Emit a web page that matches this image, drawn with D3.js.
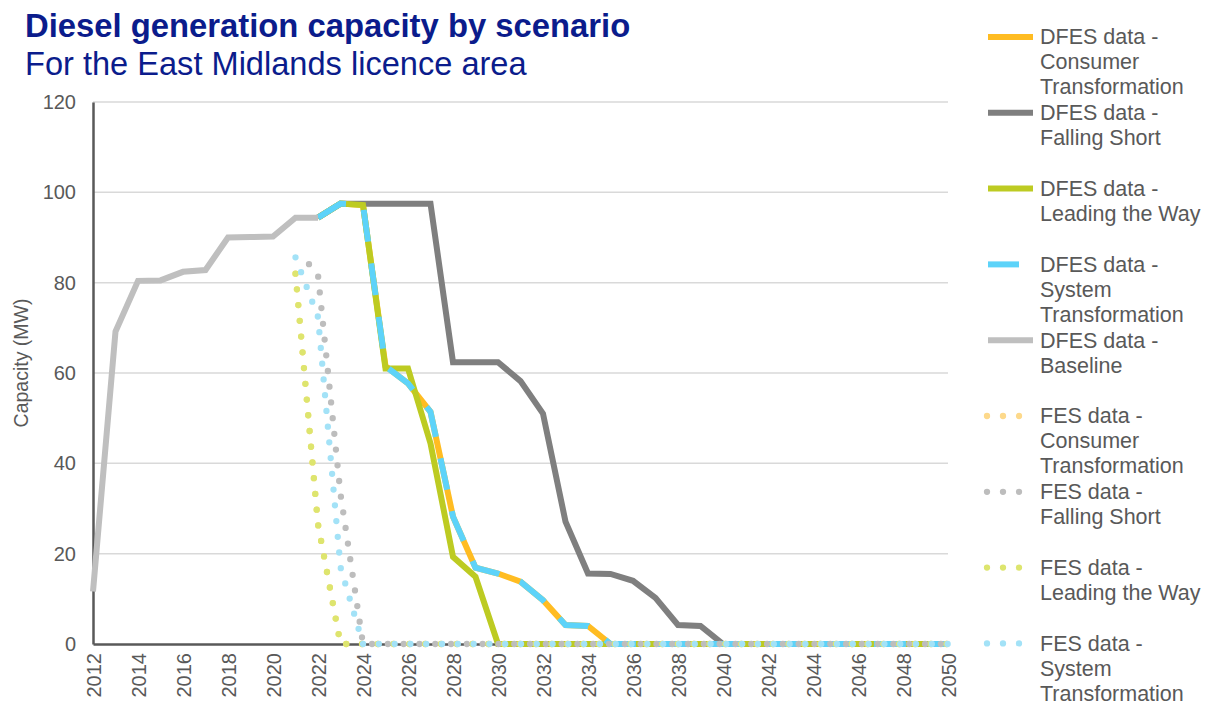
<!DOCTYPE html>
<html><head><meta charset="utf-8">
<script src="https://cdn.jsdelivr.net/npm/d3@7"></script>
<style>
body{margin:0;background:#fff;}
svg text{font-family:"Liberation Sans",Arial,sans-serif;}
</style>
</head><body>
<svg id="chart" width="1208" height="706"></svg>
<script>
// ---------- DATA ----------
const baselineYears = [2012,2013,2014,2015,2016,2017,2018,2019,2020,2021,2022];
const baselineValues = [11.6,69.2,80.4,80.5,82.4,82.8,90.0,90.1,90.2,94.4,94.4];

const dfesYears = [2022,2023,2024,2025,2026,2027,2028,2029,2030,2031,2032,2033,2034,2035,2036,
  2037,2038,2039,2040,2041,2042,2043,2044,2045,2046,2047,2048,2049,2050];
const dfesConsumer = [94.4,97.5,97.2,61.5,57.7,51.4,28.2,16.9,15.6,13.8,9.7,4.2,4.0,0,0,
  0,0,0,0,0,0,0,0,0,0,0,0,0,0];
const dfesFalling = [94.4,97.5,97.5,97.5,97.5,97.5,62.4,62.4,62.4,58.2,51.0,27.1,15.6,15.5,14.0,
  10.2,4.2,4.0,0,0,0,0,0,0,0,0,0,0,0];
const dfesLeading = [94.4,97.5,97.2,61.0,61.0,44.4,19.3,14.9,0,0,0,0,0,0,0,
  0,0,0,0,0,0,0,0,0,0,0,0,0,0];
const dfesSystem = [94.4,97.5,97.2,61.5,57.7,51.4,28.2,16.9,15.6,13.8,9.7,4.2,4.0,0,0,
  0,0,0,0,0,0,0,0,0,0,0,0,0,0];

const fesZeroYears = [2024,2025,2026,2027,2028,2029,2030,2031,2032,2033,2034,2035,2036,2037,
  2038,2039,2040,2041,2042,2043,2044,2045,2046,2047,2048,2049,2050];
const fesConsumerHead = [[2021,82.0],[2022,26.5],[2023,0]];
const fesFallingHead  = [[2021.6,84.1],[2022,81.7],[2023,33.2]];
const fesLeadingHead  = [[2021,82.0],[2022,26.5],[2023,0]];
const fesSystemHead   = [[2021,85.6],[2022,72.4],[2023,17.0]];

const xTickYears = [2012,2014,2016,2018,2020,2022,2024,2026,2028,2030,2032,2034,2036,2038,2040,
  2042,2044,2046,2048,2050];
const yTicks = [0,20,40,60,80,100,120];

const legendLabels = [
  ["DFES data -","Consumer","Transformation"],
  ["DFES data -","Falling Short"],
  ["DFES data -","Leading the Way"],
  ["DFES data -","System","Transformation"],
  ["DFES data -","Baseline"],
  ["FES data -","Consumer","Transformation"],
  ["FES data -","Falling Short"],
  ["FES data -","Leading the Way"],
  ["FES data -","System","Transformation"]
];

// ---------- BUILD ----------
const zip = (xs, vs) => xs.map((x,i)=>[x, vs[i]]);
const zeroTail = fesZeroYears.map(y=>[y,0]);

const series = [
  {pts: zip(dfesYears, dfesConsumer), color:"#FFBC22", w:6, dash:null, kind:"solid"},
  {pts: zip(dfesYears, dfesFalling),  color:"#7F7F7F", w:6, dash:null, kind:"solid"},
  {pts: zip(dfesYears, dfesLeading),  color:"#BDCB22", w:6, dash:null, kind:"solid"},
  {pts: zip(dfesYears, dfesSystem),   color:"#5DD3F9", w:6, dash:"32 22", kind:"dash"},
  {pts: zip(baselineYears, baselineValues), color:"#BFBFBF", w:6, dash:null, kind:"solid"},
  {pts: fesConsumerHead.concat(zeroTail), color:"#FDD98B", w:6.3, dash:"0 15.8", kind:"dot"},
  {pts: fesFallingHead.concat(zeroTail),  color:"#BDBDBD", w:6.3, dash:"0 15.8", kind:"dot"},
  {pts: fesLeadingHead.concat(zeroTail),  color:"#DDE56E", w:6.3, dash:"0 15.8", kind:"dot"},
  {pts: fesSystemHead.concat(zeroTail),   color:"#A3E2F7", w:6.3, dash:"0 15.8", kind:"dot"}
];

const svg = d3.select("#chart");
const x = d3.scaleLinear().domain([2012,2050]).range([93,948]);
const y = d3.scaleLinear().domain([0,120]).range([644,102]);
const textGray = "#595959";

// title
svg.append("text").attr("x",25).attr("y",37).attr("fill","#0B1C8C")
  .attr("font-size",32.8).attr("font-weight","bold").text("Diesel generation capacity by scenario");
svg.append("text").attr("x",25).attr("y",75).attr("fill","#0B1C8C")
  .attr("font-size",32.6).text("For the East Midlands licence area");

// gridlines
svg.append("g").selectAll("line").data(yTicks.filter(t=>t>0)).join("line")
  .attr("x1",x(2012)).attr("x2",x(2050)).attr("y1",d=>y(d)).attr("y2",d=>y(d))
  .attr("stroke","#D9D9D9").attr("stroke-width",1.5);

// y axis
const yAxis = d3.axisLeft(y).tickValues(yTicks).tickSize(0).tickPadding(17);
const gy = svg.append("g").attr("transform",`translate(${x(2012)},0)`).call(yAxis);
gy.select(".domain").attr("stroke","#595959").attr("stroke-width",2.5);
gy.selectAll("text").attr("font-size",20).attr("fill",textGray)
  .attr("font-family","'Liberation Sans',Arial,sans-serif");

// x axis
const xAxis = d3.axisBottom(x).tickValues(xTickYears).tickSize(0).tickFormat(d3.format("d"));
const gx = svg.append("g").attr("transform",`translate(0,${y(0)})`).call(xAxis);
gx.select(".domain").attr("stroke","#595959").attr("stroke-width",2.5);
gx.selectAll("text").attr("font-size",20).attr("fill",textGray)
  .attr("font-family","'Liberation Sans',Arial,sans-serif")
  .attr("transform","rotate(-90)").attr("text-anchor","end")
  .attr("x",-9).attr("y",0).attr("dy","0.35em");

// y axis title
svg.append("text").attr("transform","translate(28,363) rotate(-90)")
  .attr("text-anchor","middle").attr("font-size",19.5).attr("fill",textGray).text("Capacity (MW)");

// series
const line = d3.line().x(d=>x(d[0])).y(d=>y(d[1]));
const gs = svg.append("g");
series.forEach(s=>{
  gs.append("path").attr("d", line(s.pts)).attr("fill","none")
    .attr("stroke", s.color).attr("stroke-width", s.w)
    .attr("stroke-linejoin", s.kind==="dot" ? "round" : "miter")
    .attr("stroke-linecap", s.kind==="dot" ? "round" : "butt")
    .attr("stroke-dasharray", s.dash);
});

// legend
const lg = svg.append("g");
legendLabels.forEach((lines,i)=>{
  const cy = 37 + i*75.8;
  const s = series[i];
  let x1 = 988, x2 = 1033;
  if (s.kind==="dash") x2 = 1019;
  if (s.kind==="dot") { x1 = 987; x2 = 1019.5; }
  lg.append("line").attr("x1",x1).attr("x2",x2).attr("y1",cy).attr("y2",cy)
    .attr("stroke",s.color).attr("stroke-width",s.w)
    .attr("stroke-linecap", s.kind==="dot" ? "round" : "butt")
    .attr("stroke-dasharray", s.kind==="dot" ? "0 16" : null);
  lines.forEach((t,j)=>{
    lg.append("text").attr("x",1040).attr("y",cy + 7.3 + j*25)
      .attr("font-size",21.5).attr("fill",textGray).text(t);
  });
});
</script>
</body></html>
